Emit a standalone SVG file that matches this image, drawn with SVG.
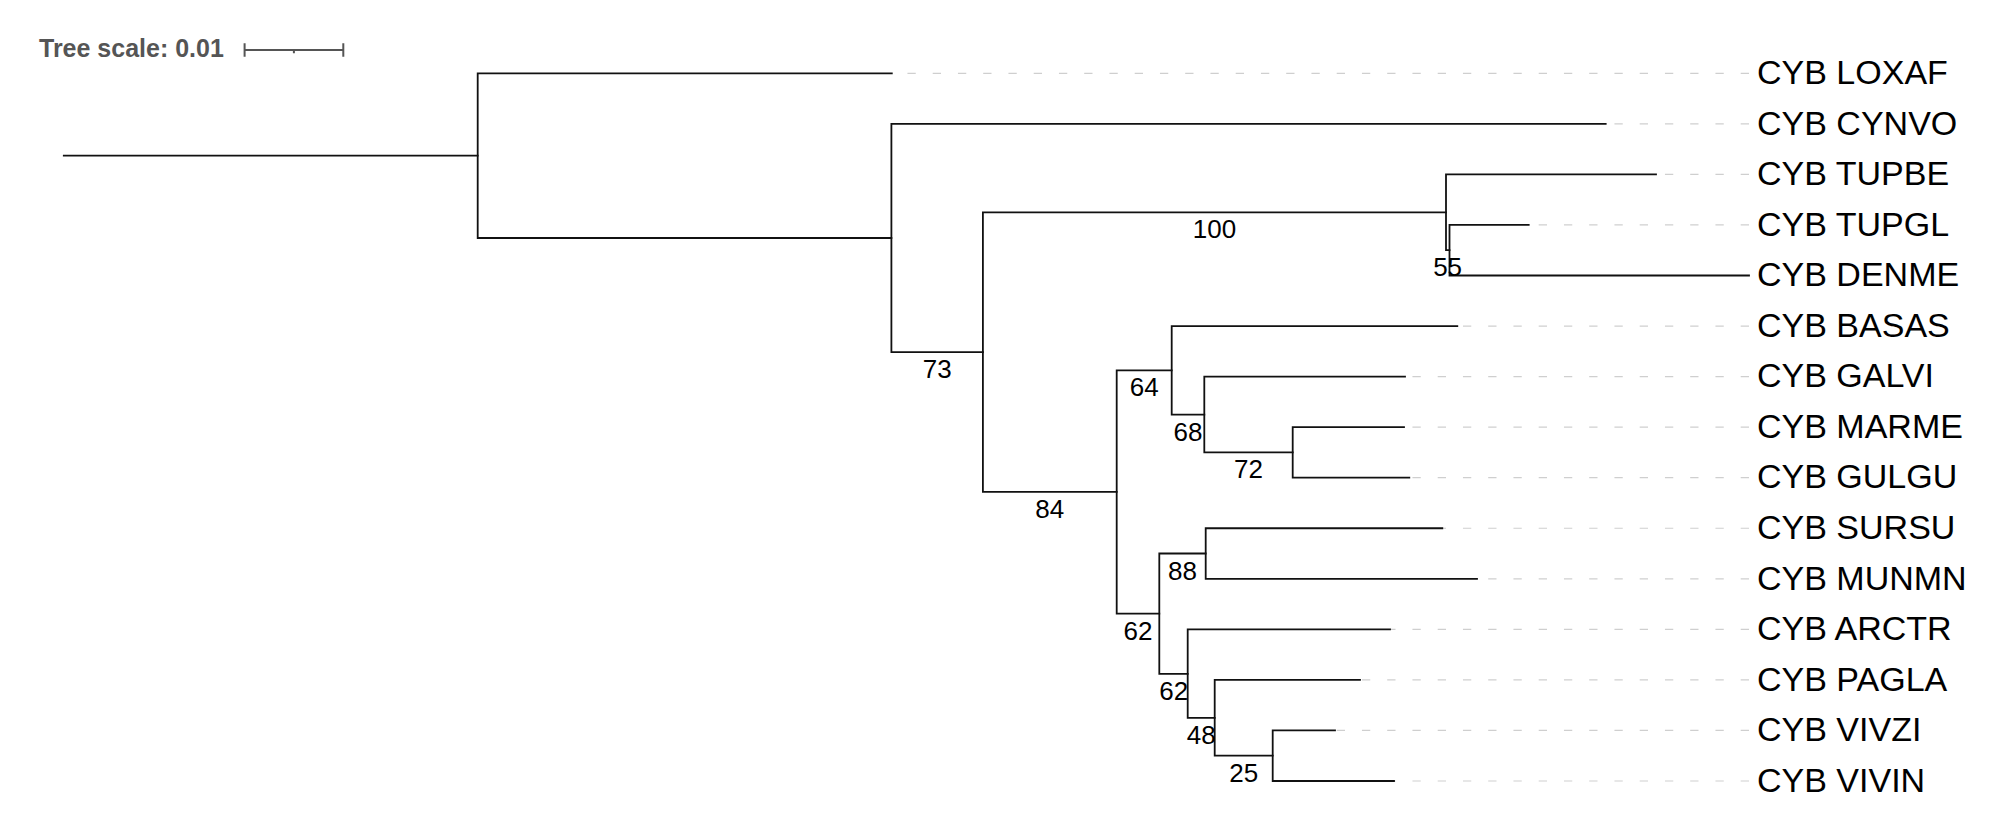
<svg xmlns="http://www.w3.org/2000/svg" width="2003" height="832" viewBox="0 0 2003 832">
<style>
.br{fill:none;stroke:#111;stroke-width:1.8;stroke-linecap:square}
.ld{fill:none;stroke:#cfcfcf;stroke-width:1.2;stroke-dasharray:8.3 16.95}
.lf{font-family:"Liberation Sans",Arial,sans-serif;font-size:34px;fill:#000}
.bs{font-family:"Liberation Sans",Arial,sans-serif;font-size:26px;fill:#000;text-anchor:middle}
.sc{fill:none;stroke:#555;stroke-width:2}
.st{font-family:"Liberation Sans",Arial,sans-serif;font-size:25px;font-weight:bold;fill:#555}
</style>
<rect width="2003" height="832" fill="#fff"/>
<g id="tree-scale">
<text class="st" x="39" y="57.3">Tree scale: 0.01</text>
<path class="sc" d="M244.6,50H343.3M244.6,43.3V56.7M343.3,43.3V56.7M293.9,50V53.3"/>
</g>
<g id="connectors">
<g id="leaders">
<path class="ld" d="M1749,73.3H891.8"/>
<path class="ld" d="M1749,123.85H1605.7"/>
<path class="ld" d="M1749,174.4H1656"/>
<path class="ld" d="M1749,224.95H1528.7"/>
<path class="ld" d="M1749,326.05H1457.3"/>
<path class="ld" d="M1749,376.6H1405"/>
<path class="ld" d="M1749,427.15H1404"/>
<path class="ld" d="M1749,477.7H1409.3"/>
<path class="ld" d="M1749,528.25H1442.3"/>
<path class="ld" d="M1749,578.8H1477"/>
<path class="ld" d="M1749,629.35H1390"/>
<path class="ld" d="M1749,679.9H1360"/>
<path class="ld" d="M1749,730.45H1335"/>
<path class="ld" d="M1749,781H1394"/>
</g>
<g id="branches">
<path class="br" d="M63.8,155.6H477.7"/>
<path class="br" d="M477.7,73.3V238M477.7,73.3H891.8M477.7,238H891.4"/>
<path class="br" d="M891.4,123.85V352.1M891.4,123.85H1605.7M891.4,352.1H982.9"/>
<path class="br" d="M982.9,212.3V491.9M982.9,212.3H1446M982.9,491.9H1116.7"/>
<path class="br" d="M1446,174.4V250.2M1446,174.4H1656M1446,250.2H1449.5"/>
<path class="br" d="M1449.5,224.95V275.5M1449.5,224.95H1528.7M1449.5,275.5H1749"/>
<path class="br" d="M1116.7,370.3V613.7M1116.7,370.3H1171.7M1116.7,613.7H1159.3"/>
<path class="br" d="M1171.7,326.05V414.6M1171.7,326.05H1457.3M1171.7,414.6H1204.3"/>
<path class="br" d="M1204.3,376.6V452.4M1204.3,376.6H1405M1204.3,452.4H1292.7"/>
<path class="br" d="M1292.7,427.15V477.7M1292.7,427.15H1404M1292.7,477.7H1409.3"/>
<path class="br" d="M1159.3,553.5V673.8M1159.3,553.5H1205.7M1159.3,673.8H1187.7"/>
<path class="br" d="M1205.7,528.25V578.8M1205.7,528.25H1442.3M1205.7,578.8H1477"/>
<path class="br" d="M1187.7,629.35V717.8M1187.7,629.35H1390M1187.7,717.8H1214.7"/>
<path class="br" d="M1214.7,679.9V755.7M1214.7,679.9H1360M1214.7,755.7H1272.7"/>
<path class="br" d="M1272.7,730.45V781M1272.7,730.45H1335M1272.7,781H1394"/>
</g>
</g>
<g id="bootstrap">
<g id="n73"><text class="bs" x="937.2" y="378.1">73</text></g>
<g id="n100"><text class="bs" x="1214.5" y="238.3">100</text></g>
<g id="n55"><text class="bs" x="1447.6" y="276.2">55</text></g>
<g id="n84"><text class="bs" x="1049.8" y="518">84</text></g>
<g id="n64"><text class="bs" x="1144.2" y="396.3">64</text></g>
<g id="n68"><text class="bs" x="1188" y="440.6">68</text></g>
<g id="n72"><text class="bs" x="1248.5" y="478.4">72</text></g>
<g id="n62a"><text class="bs" x="1138" y="639.7">62</text></g>
<g id="n88"><text class="bs" x="1182.5" y="579.5">88</text></g>
<g id="n62b"><text class="bs" x="1173.7" y="699.6">62</text></g>
<g id="n48"><text class="bs" x="1201.2" y="743.8">48</text></g>
<g id="n25"><text class="bs" x="1243.7" y="781.7">25</text></g>
</g>
<g id="leaves">
<g id="LOXAF"><text class="lf" x="1757" y="84">CYB LOXAF</text></g>
<g id="CYNVO"><text class="lf" x="1757" y="134.55">CYB CYNVO</text></g>
<g id="TUPBE"><text class="lf" x="1757" y="185.1">CYB TUPBE</text></g>
<g id="TUPGL"><text class="lf" x="1757" y="235.65">CYB TUPGL</text></g>
<g id="DENME"><text class="lf" x="1757" y="286.2">CYB DENME</text></g>
<g id="BASAS"><text class="lf" x="1757" y="336.75">CYB BASAS</text></g>
<g id="GALVI"><text class="lf" x="1757" y="387.3">CYB GALVI</text></g>
<g id="MARME"><text class="lf" x="1757" y="437.85">CYB MARME</text></g>
<g id="GULGU"><text class="lf" x="1757" y="488.4">CYB GULGU</text></g>
<g id="SURSU"><text class="lf" x="1757" y="538.95">CYB SURSU</text></g>
<g id="MUNMN"><text class="lf" x="1757" y="589.5">CYB MUNMN</text></g>
<g id="ARCTR"><text class="lf" x="1757" y="640.05">CYB ARCTR</text></g>
<g id="PAGLA"><text class="lf" x="1757" y="690.6">CYB PAGLA</text></g>
<g id="VIVZI"><text class="lf" x="1757" y="741.15">CYB VIVZI</text></g>
<g id="VIVIN"><text class="lf" x="1757" y="791.7">CYB VIVIN</text></g>
</g>
</svg>
